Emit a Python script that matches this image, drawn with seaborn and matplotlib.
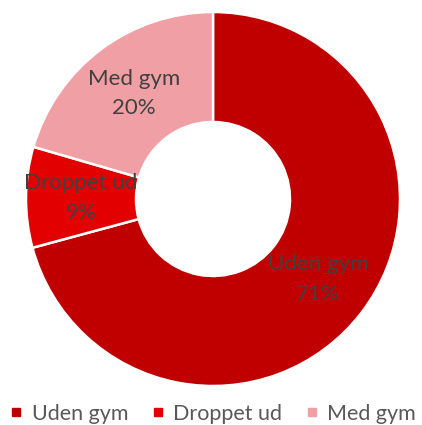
import matplotlib
matplotlib.use("Agg")
import matplotlib.pyplot as plt
import seaborn as sns
import numpy as np
from matplotlib.lines import Line2D

categories = ["Uden gym", "Droppet ud", "Med gym"]
values = [70.8, 8.7, 20.5]
labels_pct = ["71%", "9%", "20%"]
colors = ["#C00000", "#E30000", "#F0A0A4"]

sns.set_style("white")
plt.rcParams['font.family'] = ['Lato', 'DejaVu Sans']

W, H = 422, 425
fig = plt.figure(figsize=(W / 100, H / 100), dpi=100)
cx, cy, r = 213, 199, 187
ax = fig.add_axes([(cx - r) / W, (H - cy - r) / H, 2 * r / W, 2 * r / H])

inner = 77 / 187
width = 1 - inner
ax.pie(values, colors=colors, startangle=90, counterclock=False,
       radius=1, wedgeprops=dict(width=width, edgecolor="white", linewidth=1.8))
total = sum(values)
start = 90
mid_r = (1 + inner) / 2
for v, cat, pct in zip(values, categories, labels_pct):
    ang = start - v / total * 360 / 2
    start -= v / total * 360
    x = mid_r * np.cos(np.radians(ang))
    y = mid_r * np.sin(np.radians(ang))
    ax.text(x, y, f"{cat}\n{pct}", ha="center", va="center", fontsize=16,
            color="#404040", linespacing=1.6)
ax.set_xlim(-1, 1)
ax.set_ylim(-1, 1)
ax.set_aspect("auto")
ax.axis("off")

handles = [Line2D([0], [0], marker="s", linestyle="", markersize=6,
                  markerfacecolor=c, markeredgecolor=c) for c in colors]
fig.legend(handles, categories, loc="center", bbox_to_anchor=(0.505, 1 - 414 / H),
           ncol=3, frameon=False, fontsize=15.5, handlelength=0.6, handletextpad=0.4,
           columnspacing=1.1, labelcolor="#595959")

fig.savefig("out.png", dpi=100)
